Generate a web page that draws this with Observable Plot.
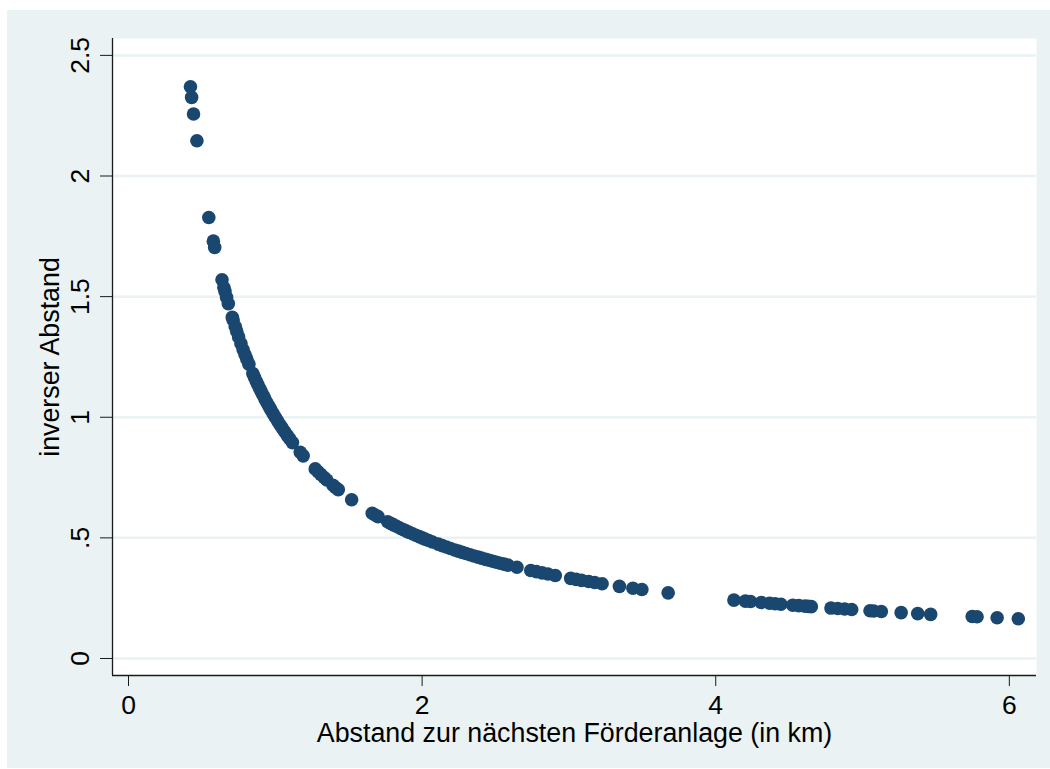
<!DOCTYPE html>
<html>
<head>
<meta charset="utf-8">
<script src="https://cdn.jsdelivr.net/npm/d3@7"></script>
<script src="https://cdn.jsdelivr.net/npm/@observablehq/plot@0.6"></script>
<style>
  html, body { margin: 0; padding: 0; background: #ffffff; }
  #chart { position: absolute; left: 7px; top: 10px; }
</style>
</head>
<body>
<div id="chart"></div>
<script>
const distanceKm = [
  0.422, 0.430, 0.443, 0.466, 0.547, 0.578, 0.587, 0.637, 0.650, 0.657,
  0.668, 0.680, 0.707, 0.713, 0.727, 0.737, 0.750, 0.766, 0.781, 0.794,
  0.806, 0.820, 0.847, 0.858, 0.870, 0.881, 0.893, 0.904, 0.917, 0.930,
  0.943, 0.957, 0.971, 0.985, 1.000, 1.015, 1.031, 1.046, 1.063, 1.081,
  1.099, 1.117, 1.170, 1.190, 1.272, 1.290, 1.310, 1.333, 1.351, 1.393,
  1.410, 1.429, 1.520, 1.660, 1.680, 1.700, 1.765, 1.786, 1.805, 1.825,
  1.848, 1.869, 1.890, 1.912, 1.934, 1.957, 1.980, 2.000, 2.020, 2.045,
  2.070, 2.110, 2.137, 2.165, 2.193, 2.222, 2.247, 2.273, 2.299, 2.326,
  2.353, 2.381, 2.404, 2.433, 2.457, 2.481, 2.506, 2.532, 2.558, 2.584,
  2.646, 2.740, 2.778, 2.817, 2.857, 2.907, 3.012, 3.049, 3.086, 3.135,
  3.175, 3.226, 3.344, 3.436, 3.497, 3.676, 4.124, 4.202, 4.237, 4.310,
  4.367, 4.405, 4.444, 4.525, 4.566, 4.608, 4.630, 4.651, 4.785, 4.831,
  4.878, 4.926, 5.051, 5.076, 5.128, 5.263, 5.376, 5.464, 5.747, 5.780,
  5.917, 6.061
];
const inverseDistance = [
  2.370, 2.326, 2.257, 2.146, 1.828, 1.730, 1.704, 1.570, 1.538, 1.522,
  1.497, 1.471, 1.414, 1.403, 1.376, 1.357, 1.333, 1.305, 1.280, 1.259,
  1.241, 1.220, 1.181, 1.166, 1.149, 1.135, 1.120, 1.106, 1.091, 1.075,
  1.060, 1.045, 1.030, 1.015, 1.000, 0.985, 0.970, 0.956, 0.941, 0.925,
  0.910, 0.895, 0.855, 0.840, 0.786, 0.775, 0.763, 0.750, 0.740, 0.718,
  0.709, 0.700, 0.658, 0.602, 0.595, 0.588, 0.567, 0.560, 0.554, 0.548,
  0.541, 0.535, 0.529, 0.523, 0.517, 0.511, 0.505, 0.500, 0.495, 0.489,
  0.483, 0.474, 0.468, 0.462, 0.456, 0.450, 0.445, 0.440, 0.435, 0.430,
  0.425, 0.420, 0.416, 0.411, 0.407, 0.403, 0.399, 0.395, 0.391, 0.387,
  0.378, 0.365, 0.360, 0.355, 0.350, 0.344, 0.332, 0.328, 0.324, 0.319,
  0.315, 0.310, 0.299, 0.291, 0.286, 0.272, 0.242, 0.238, 0.236, 0.232,
  0.229, 0.227, 0.225, 0.221, 0.219, 0.217, 0.216, 0.215, 0.209, 0.207,
  0.205, 0.203, 0.198, 0.197, 0.195, 0.190, 0.186, 0.183, 0.174, 0.173,
  0.169, 0.165
];
const xTicks = [0, 2, 4, 6];
const xTickLabels = ["0", "2", "4", "6"];
const yTicks = [0, 0.5, 1, 1.5, 2, 2.5];
const yTickLabels = ["0", ".5", "1", "1.5", "2", "2.5"];
const xTitle = "Abstand zur nächsten Förderanlage (in km)";
const yTitle = "inverser Abstand";

const points = distanceKm.map((x, i) => ({x, y: inverseDistance[i]}));

const xDomain = [-0.109, 6.185];
const yDomain = [-0.0705, 2.570];
const bg = "#EAF2F3";
const fs = 26.5;

const chart = Plot.plot({
  width: 1043,
  height: 758,
  marginLeft: 105,
  marginTop: 28,
  marginRight: 14,
  marginBottom: 93,
  x: {domain: xDomain, axis: "bottom", ticks: xTicks, tickSize: 11, tickFormat: () => "", label: null},
  y: {domain: yDomain, axis: "left", ticks: yTicks, tickSize: 12, tickFormat: () => "", label: null},
  style: {background: bg, fontFamily: "'Liberation Sans', Arial, sans-serif", color: "#1a1a1a"},
  marks: [
    Plot.frame({fill: "white", stroke: "none"}),
    Plot.ruleY(yTicks, {stroke: bg, strokeOpacity: 1, strokeWidth: 2.5}),
    Plot.ruleX([xDomain[0]], {stroke: "#1a1a1a", strokeWidth: 1.3}),
    Plot.ruleY([yDomain[0]], {stroke: "#1a1a1a", strokeWidth: 1.3}),
    Plot.text(xTicks, {x: d => d, text: (d, i) => xTickLabels[i], frameAnchor: "bottom", dy: 30, fontSize: fs, lineAnchor: "middle", fill: "#000"}),
    Plot.text(yTicks, {y: d => d, text: (d, i) => yTickLabels[i], frameAnchor: "left", dx: -32, rotate: -90, textAnchor: "middle", lineAnchor: "middle", fontSize: fs, fill: "#000"}),
    Plot.text([xTitle], {text: d => d, frameAnchor: "bottom", dy: 58, fontSize: 26.8, lineAnchor: "middle", fill: "#000"}),
    Plot.text([yTitle], {text: d => d, frameAnchor: "left", dx: -62, rotate: -90, textAnchor: "middle", lineAnchor: "middle", fontSize: 26.8, fill: "#000"}),
    Plot.dot(points, {x: "x", y: "y", r: 6.8, fill: "#1A476F", stroke: "none"})
  ]
});
document.getElementById("chart").appendChild(chart);
</script>
</body>
</html>
